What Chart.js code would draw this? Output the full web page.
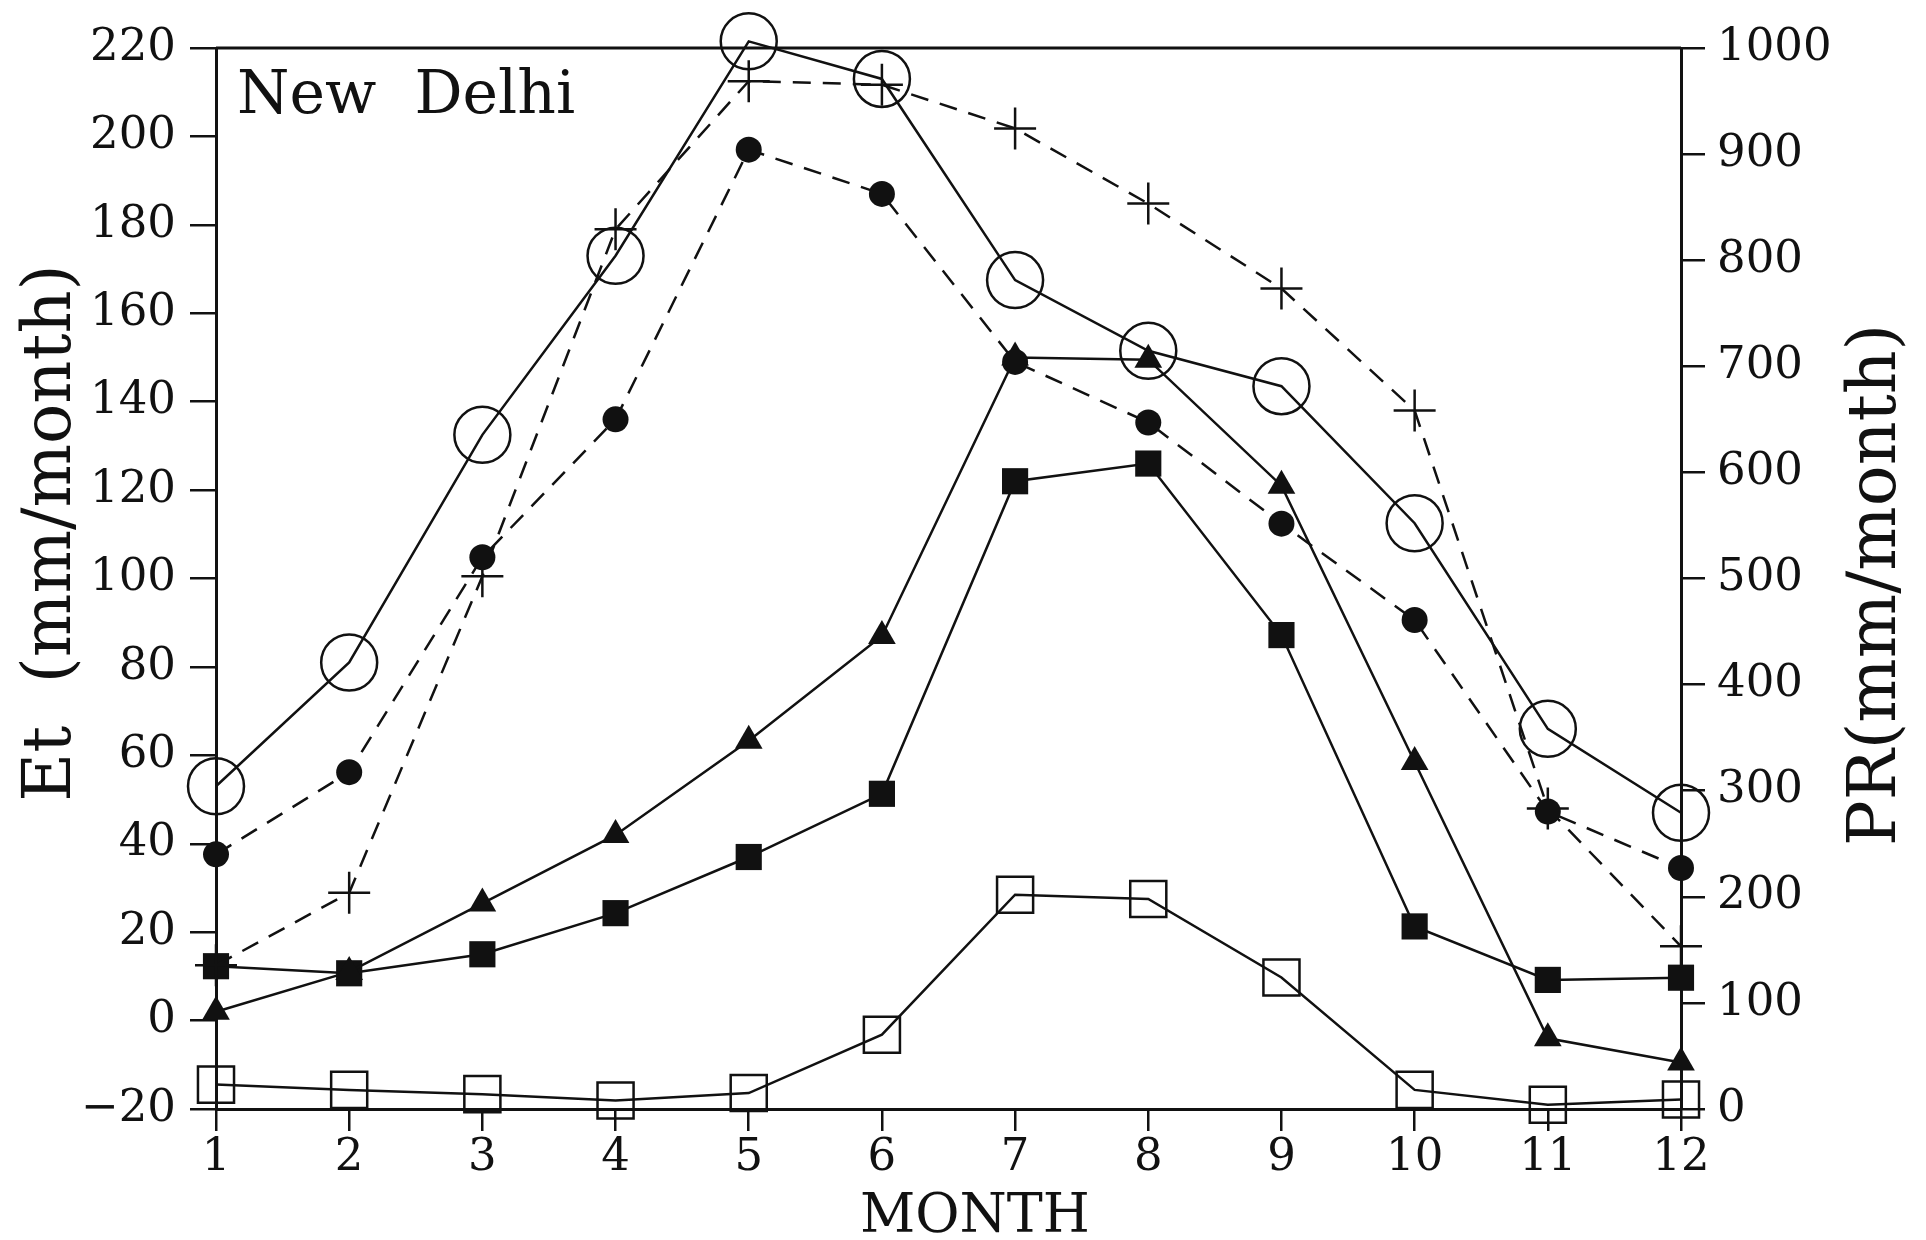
<!DOCTYPE html>
<html>
<head>
<meta charset="utf-8">
<script src="https://cdn.jsdelivr.net/npm/chart.js@4.4.1/dist/chart.umd.min.js"></script>
<style>
    html, body { margin: 0; padding: 0; background: #fff; }
    canvas { display: block; }
</style>
</head>
<body>
<canvas id="grafico" width="1926" height="1240"></canvas>
<script>
// =======================
// DATA
// =======================
const meses = [1, 2, 3, 4, 5, 6, 7, 8, 9, 10, 11, 12];

// Et (mm/month), left axis
const etCirculoAberto = [53, 81, 132.5, 173, 221.5, 213, 167.5, 151.5, 143.5, 112.5, 66, 47];
const etCirculoCheio  = [37.6, 56.2, 104.8, 136, 197, 187, 149, 135.3, 112.4, 90.6, 47.3, 34.5];
const etCruz          = [12.5, 28.9, 100.5, 179, 212.5, 211.7, 201.8, 184.8, 165.6, 138, 48, 16.8];
const etTriangulo     = [2, 11, 26.5, 42, 63.3, 87, 150, 149.5, 121, 58.5, -4, -9.5];
const etQuadradoCheio = [12.3, 10.7, 15, 24.3, 37, 51.3, 122, 126, 87.2, 21.3, 9.2, 9.7];

// PR (mm/month), right axis
const prQuadradoAberto = [23, 18, 14, 8, 15, 70, 202, 198, 124, 18, 4, 9];

const ESTACAO = "New  Delhi";
const TITULO_X = "MONTH";
const TITULO_Y_ESQ = "Et  (mm/month)";
const TITULO_Y_DIR = "PR(mm/month)";

// =======================
// CONFIG
// =======================
const FONTE = "'DejaVu Serif', 'Liberation Serif', serif";
const PRETO = "#111";

function pontos(valores) {
    return meses.map((m, i) => ({ x: m, y: valores[i] }));
}

function serie(valores, estilo) {
    return Object.assign({
        data: pontos(valores),
        borderColor: PRETO,
        borderWidth: 2.5,
        pointBorderColor: PRETO,
        pointBorderWidth: 2.5,
        tension: 0,
        clip: false,
        yAxisID: "yEsq"
    }, estilo);
}

function menos(v) {
    return v < 0 ? "\u2212" + Math.abs(v) : String(v);
}

// =======================
// PLUGINS
// =======================
const molduraTextos = {
    id: "molduraTextos",
    afterDraw(chart) {
        const ctx = chart.ctx;
        const a = chart.chartArea;

        ctx.save();
        // top border of the frame
        ctx.strokeStyle = PRETO;
        ctx.lineWidth = 3;
        ctx.beginPath();
        ctx.moveTo(a.left, a.top);
        ctx.lineTo(a.right, a.top);
        ctx.stroke();

        ctx.fillStyle = PRETO;

        // station name
        ctx.font = "60px " + FONTE;
        ctx.textAlign = "left";
        ctx.textBaseline = "alphabetic";
        ctx.fillText(ESTACAO, 237, 113);

        // x title
        ctx.font = "54px " + FONTE;
        ctx.textAlign = "center";
        ctx.fillText(TITULO_X, 975, 1232);

        // left title
        ctx.font = "67px " + FONTE;
        ctx.save();
        ctx.translate(70, 533);
        ctx.rotate(-Math.PI / 2);
        ctx.fillText(TITULO_Y_ESQ, 0, 0);
        ctx.restore();

        // right title
        ctx.font = "68px " + FONTE;
        ctx.save();
        ctx.translate(1895, 585);
        ctx.rotate(-Math.PI / 2);
        ctx.fillText(TITULO_Y_DIR, 0, 0);
        ctx.restore();

        ctx.restore();
    }
};

// =======================
// CHART
// =======================
const eixoGrid = (tamanho) => ({
    display: true,
    drawOnChartArea: false,
    drawTicks: true,
    tickLength: tamanho,
    color: PRETO,
    lineWidth: 2.5
});

const eixoBorda = { display: true, color: PRETO, width: 3 };
const fonteTicks = { family: FONTE, size: 45 };

new Chart(document.getElementById("grafico"), {
    type: "line",
    data: {
        datasets: [
            serie(etCirculoAberto, {
                pointStyle: "circle",
                pointRadius: 28,
                pointBackgroundColor: "rgba(0,0,0,0)"
            }),
            serie(etCirculoCheio, {
                borderDash: [18, 12],
                pointStyle: "circle",
                pointRadius: 13,
                pointBackgroundColor: PRETO,
                pointBorderWidth: 0
            }),
            serie(etCruz, {
                borderDash: [18, 12],
                pointStyle: "cross",
                pointRadius: 21,
                pointBackgroundColor: PRETO
            }),
            serie(etTriangulo, {
                pointStyle: "triangle",
                pointRadius: 16,
                pointBackgroundColor: PRETO,
                pointBorderWidth: 0
            }),
            serie(etQuadradoCheio, {
                pointStyle: "rect",
                pointRadius: 18.5,
                pointBackgroundColor: PRETO,
                pointBorderWidth: 0
            }),
            serie(prQuadradoAberto, {
                pointStyle: "rect",
                pointRadius: 25.5,
                pointBackgroundColor: "rgba(0,0,0,0)",
                yAxisID: "yDir"
            })
        ]
    },
    options: {
        responsive: false,
        animation: false,
        events: [],
        layout: { padding: { top: 48, left: 0, right: 0, bottom: 0 } },
        plugins: {
            legend: { display: false },
            tooltip: { enabled: false }
        },
        scales: {
            x: {
                type: "linear",
                position: "bottom",
                min: 1,
                max: 12,
                afterFit: s => { s.height = 131; },
                grid: eixoGrid(22),
                border: eixoBorda,
                ticks: {
                    stepSize: 1,
                    color: PRETO,
                    font: fonteTicks,
                    padding: 0,
                    maxRotation: 0
                }
            },
            yEsq: {
                type: "linear",
                position: "left",
                min: -20,
                max: 220,
                afterFit: s => { s.width = 216; },
                grid: eixoGrid(26),
                border: eixoBorda,
                ticks: {
                    stepSize: 20,
                    color: PRETO,
                    font: fonteTicks,
                    padding: 14,
                    callback: menos
                }
            },
            yDir: {
                type: "linear",
                position: "right",
                min: 0,
                max: 1000,
                afterFit: s => { s.width = 245; },
                grid: eixoGrid(24),
                border: eixoBorda,
                ticks: {
                    stepSize: 100,
                    color: PRETO,
                    font: fonteTicks,
                    padding: 12,
                    callback: menos
                }
            }
        }
    },
    plugins: [molduraTextos]
});
</script>
</body>
</html>
